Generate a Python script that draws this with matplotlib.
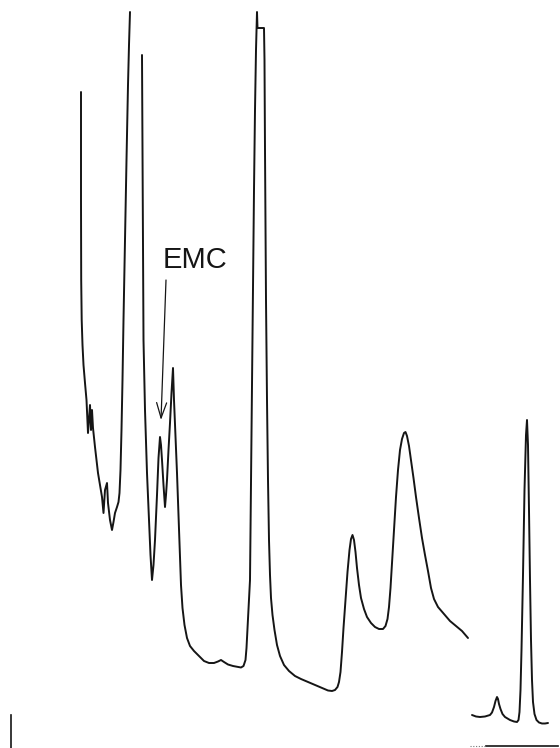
import matplotlib.pyplot as plt

run_a_t = [81, 81, 81.2, 81.7, 82.5, 83.5, 85, 86.5, 88, 90, 91, 92, 93, 95, 98, 102, 103.5,
           105, 107, 108, 110, 112, 113.5, 115, 117, 118.5, 119.5, 120.5, 121.5, 122.5,
           123.5, 125, 126.5, 128, 129, 130]
run_a_y = [92, 200, 280, 320, 345, 365, 383, 400, 433, 405, 430, 410, 428, 447, 473, 497, 513,
           490, 483, 503, 520, 530, 522, 513, 507, 502, 493, 470, 430, 380,
           320, 240, 160, 85, 45, 12]

run_b_t = [142, 142.5, 143, 143.5, 145, 147, 149, 150.5, 152, 153.5, 155, 157, 158.5, 160,
           161, 162, 163.5, 165, 166, 167, 168.5, 170, 171.5, 173, 174, 175.5, 177, 178.5,
           180, 181, 182.5, 184.5, 187, 190, 194, 199, 204, 209, 214, 218, 221, 224, 228,
           233, 238, 241, 243.5, 245.5, 246.5, 247.5, 249, 250, 251, 252, 253, 254, 255,
           256, 257, 257.5, 264, 264.5, 265, 266, 267, 268, 269, 270, 271, 272.5, 274.5,
           277, 280, 284, 289, 295, 301, 308, 315, 322, 328, 332, 335, 337.5, 339, 340.5,
           342, 343.5, 345.5, 347.5, 349.5, 351, 352.5, 354, 355.5, 357, 359, 361, 364,
           367, 371, 375, 379, 383, 385.5, 387.5, 389, 390.5, 392, 394, 396, 398, 400,
           402, 404, 405.5, 407, 409, 411, 413.5, 416, 419, 422, 425, 428, 431, 434, 438,
           444, 450, 456, 462, 468]
run_b_y = [55, 150, 250, 340, 410, 473, 520, 555, 580, 565, 540, 495, 458, 437,
           445, 460, 485, 507, 495, 480, 450, 423, 393, 368, 400, 437, 473, 515,
           557, 585, 608, 625, 638, 646, 651, 656, 661, 663, 663, 661.5, 660, 662, 664.5,
           666, 667, 667.5, 666, 660, 648, 628, 597, 580, 480, 380, 280, 190, 110,
           50, 12, 28, 28, 60, 150, 300, 400, 480, 540, 575, 598, 615, 630,
           645, 656, 665, 671, 676, 679, 682, 685, 688, 690.5, 691, 690, 687, 682, 672,
           652, 628, 600, 572, 550, 539, 535, 540, 552, 568, 585, 598, 609,
           617, 623, 627, 629, 629, 626, 619, 607, 588, 563, 528, 497, 470, 450,
           439, 433, 432, 436, 446, 460, 478, 497, 518, 538, 555, 571, 588, 599, 607,
           614, 621, 626, 631, 638]

run_c_t = [472, 476, 480, 485, 490, 492, 494, 495.5, 497, 498, 499, 500.5, 502.5, 505,
           510, 514, 517, 518.5, 519.5, 520.5, 521.5, 523, 524.5, 526, 527, 528, 529,
           530, 531, 532, 533, 534.5, 536.5, 539, 542, 545, 548]
run_c_y = [715, 716.5, 717, 716.5, 715, 712.5, 707, 701, 697, 699, 704, 709, 714, 717,
           720, 721.5, 722, 720, 712, 690, 650, 575, 490, 435, 420, 445, 510,
           580, 640, 680, 702, 714, 720, 722.5, 723.5, 723.5, 723]

label = "EMC"
label_pos = (163, 268)
arrow_from = (166, 280)
arrow_to = (161, 420)

fig = plt.figure(figsize=(5.6, 7.48), dpi=100)
ax = fig.add_axes([0, 0, 1, 1])
ink = "#151515"

for t, y in [(run_a_t, run_a_y), (run_b_t, run_b_y), (run_c_t, run_c_y)]:
    ax.plot(t, y, color=ink, lw=1.4, solid_joinstyle="round", solid_capstyle="round")

# scale bar at the bottom right and the mark at the bottom left
ax.plot([486, 558], [746, 746], color=ink, lw=1.2)
ax.plot([470, 486], [746, 746], color="#777777", lw=0.8, ls=(0, (1, 1.5)))
ax.plot([11, 11], [715, 748], color=ink, lw=1.2)

ax.text(label_pos[0], label_pos[1], label, ha="left", va="baseline",
        fontsize=21, family="Liberation Sans", color=ink)
ax.annotate("", xy=arrow_to, xytext=arrow_from,
            arrowprops=dict(arrowstyle="->, head_length=0.55, head_width=0.18",
                            color=ink, lw=0.9, shrinkA=0, shrinkB=0,
                            mutation_scale=20))

ax.set_xlim(0, 560)
ax.set_ylim(748, 0)
ax.axis("off")

fig.savefig("out.png", dpi=100)
